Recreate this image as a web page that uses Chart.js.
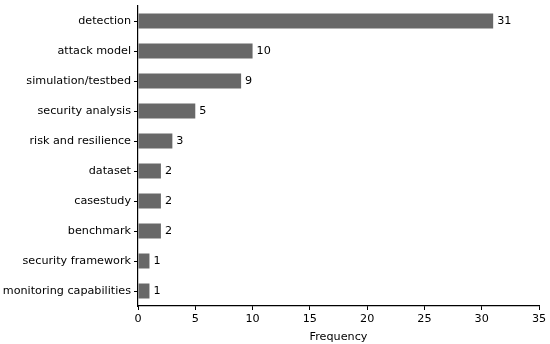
<!DOCTYPE html>
<html>
<head>
<meta charset="utf-8">
<script src="https://cdn.jsdelivr.net/npm/chart.js@4/dist/chart.umd.min.js"></script>
<style>
  html, body { margin: 0; padding: 0; background: #fff; }
  #wrap { width: 550px; height: 344px; }
</style>
</head>
<body>
<div id="wrap"><canvas id="chart"></canvas></div>
<script>
const categories = ['detection', 'attack model', 'simulation/testbed', 'security analysis',
  'risk and resilience', 'dataset', 'casestudy', 'benchmark', 'security framework',
  'monitoring capabilities'];
const frequency = [31, 10, 9, 5, 3, 2, 2, 2, 1, 1];
const xTicks = [0, 5, 10, 15, 20, 25, 30, 35];

const font = { family: 'DejaVu Sans', size: 11.2 };

// value next to the end of every bar
const barValues = {
  id: 'barValues',
  afterDatasetsDraw(chart) {
    const ctx = chart.ctx;
    const meta = chart.getDatasetMeta(0);
    ctx.save();
    ctx.font = `${font.size}px ${font.family}`;
    ctx.fillStyle = '#000';
    ctx.textAlign = 'left';
    ctx.textBaseline = 'middle';
    meta.data.forEach((bar, i) => {
      ctx.fillText(String(frequency[i]), bar.x + 4, bar.y);
    });
    ctx.restore();
  }
};

new Chart(document.getElementById('chart'), {
  type: 'bar',
  data: {
    labels: categories,
    datasets: [{
      data: frequency,
      backgroundColor: '#686868',
      borderWidth: 0,
      barPercentage: 0.5,
      categoryPercentage: 1.0
    }]
  },
  options: {
    indexAxis: 'y',
    responsive: true,
    maintainAspectRatio: false,
    animation: false,
    layout: { padding: { top: 6, right: 11, left: 0, bottom: 0 } },
    plugins: {
      legend: { display: false },
      tooltip: { enabled: false }
    },
    scales: {
      x: {
        type: 'linear',
        min: 0,
        max: 35,
        afterBuildTicks: (scale) => { scale.ticks = xTicks.map(v => ({ value: v })); },
        afterFit: (scale) => {
          scale.height = 38;
          scale.paddingLeft = 0;
          scale.paddingRight = 0;
        },
        grid: { drawOnChartArea: false, drawTicks: true, tickLength: 4, tickColor: '#000' },
        border: { display: true, color: '#000', width: 1.2 },
        ticks: { color: '#000', font: font, padding: 2, maxRotation: 0 },
        title: { display: true, text: 'Frequency', color: '#000', font: font, padding: { top: 1, bottom: 0 } }
      },
      y: {
        afterFit: (scale) => {
          scale.width = 138;
          scale.paddingTop = 0;
          scale.paddingBottom = 0;
        },
        grid: { offset: false, drawOnChartArea: false, drawTicks: true, tickLength: 4, tickColor: '#000' },
        border: { display: true, color: '#000', width: 1.2 },
        ticks: { color: '#000', font: font, padding: 3 }
      }
    }
  },
  plugins: [barValues]
});
</script>
</body>
</html>
